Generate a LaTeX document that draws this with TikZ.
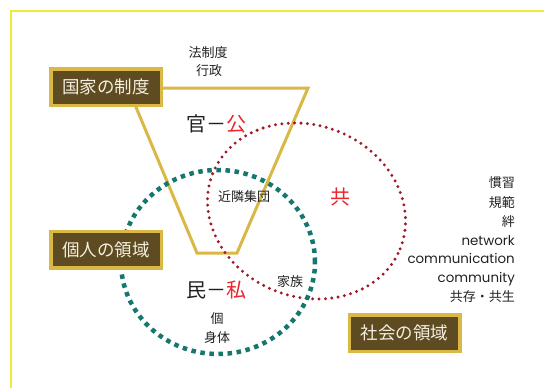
\documentclass[tikz,border=0pt]{standalone}
\usepackage{fontspec}
\newfontfamily\jp{Noto Sans CJK JP}
\newfontfamily\lat{Poppins}
\definecolor{framec}{HTML}{F2E83C}
\definecolor{goldc}{HTML}{D9B846}
\definecolor{brownc}{HTML}{5E4B22}
\definecolor{creamc}{HTML}{F4EFDF}
\definecolor{txtc}{HTML}{222222}
\definecolor{redc}{HTML}{E8262B}
\definecolor{dotred}{HTML}{A01B28}
\definecolor{tealc}{HTML}{16776F}
\tikzset{
  lbl/.style={draw=goldc, line width=3.5pt, fill=brownc, text=creamc,
    font=\jp\fontsize{17.5}{20}\selectfont, minimum width=110.5pt,
    minimum height=36.5pt, inner sep=0pt},
  small/.style={text=txtc, font=\jp\fontsize{13}{15}\selectfont, inner sep=0pt},
  big/.style={text=txtc, font=\jp\fontsize{20}{22}\selectfont, inner sep=0pt},
  rt/.style={text=txtc, font=\jp\fontsize{13}{15}\selectfont, inner sep=0pt,
    anchor=east, text height=10pt, text depth=2pt},
  rtl/.style={rt, font=\lat\fontsize{13.4}{15}\selectfont},
  reddots/.style={dotred, line width=3.3pt, line cap=round, dash pattern=on 0pt off 6.4pt},
  tealdots/.style={tealc, line width=4.5pt, dash pattern=on 4.5pt off 4.6pt},
}
\begin{document}
\begin{tikzpicture}[x=1pt,y=-1pt]
\useasboundingbox (0,0) rectangle (544,388);
\fill[white] (0,0) rectangle (544,388);
% frame
\coordinate (f1) at (11,388);
\coordinate (f2) at (11,11);
\coordinate (f3) at (544,11);
\draw[framec, line width=2pt] (f1) -- (f2) -- (f3);
% trapezoid
\coordinate (t1) at (128,88);
\coordinate (t2) at (308,88);
\coordinate (t3) at (237,253);
\coordinate (t4) at (197,253);
\draw[goldc, line width=3pt, line join=miter] (t1) -- (t2) -- (t3) -- (t4) -- cycle;
% circles
\coordinate (cs) at (306.5,211);
\coordinate (cp) at (218,262);
\draw[reddots, rotate around={-22:(cs)}] (cs) ellipse [x radius=101pt, y radius=85.7pt];
\draw[tealdots] (cp) ellipse [x radius=97pt, y radius=92pt];
% label boxes
\node[lbl] (b1) at (106,87) {国家の制度};
\node[lbl] (b2) at (106,249.5) {個人の領域};
\node[lbl] (b3) at (404.5,333) {社会の領域};
% texts
\node[small] (h1) at (208,52.5) {法制度};
\node[small] (h2) at (209,71) {行政};
\node[big] (kan) at (216,124) {官－\textcolor{redc}{公}};
\node[big] (min) at (216,290) {民－\textcolor{redc}{私}};
\node[big, text=redc] (kyo) at (340,197) {共};
\node[small] (kin) at (244,197) {近隣集団};
\node[small] (kz) at (290,282) {家族};
\node[small] (ko) at (217,319) {個};
\node[small] (sh) at (217,338) {身体};
% right block
\node[rt] (r1) at (515,183) {慣習};
\node[rt] (r2) at (515,203) {規範};
\node[rt] (r3) at (515,222) {絆};
\node[rtl] (r4) at (515,241) {network};
\node[rtl] (r5) at (515,259) {communication};
\node[rtl] (r6) at (515,278) {community};
\node[rt] (r7) at (515,297) {共存・共生};
\end{tikzpicture}
\end{document}
